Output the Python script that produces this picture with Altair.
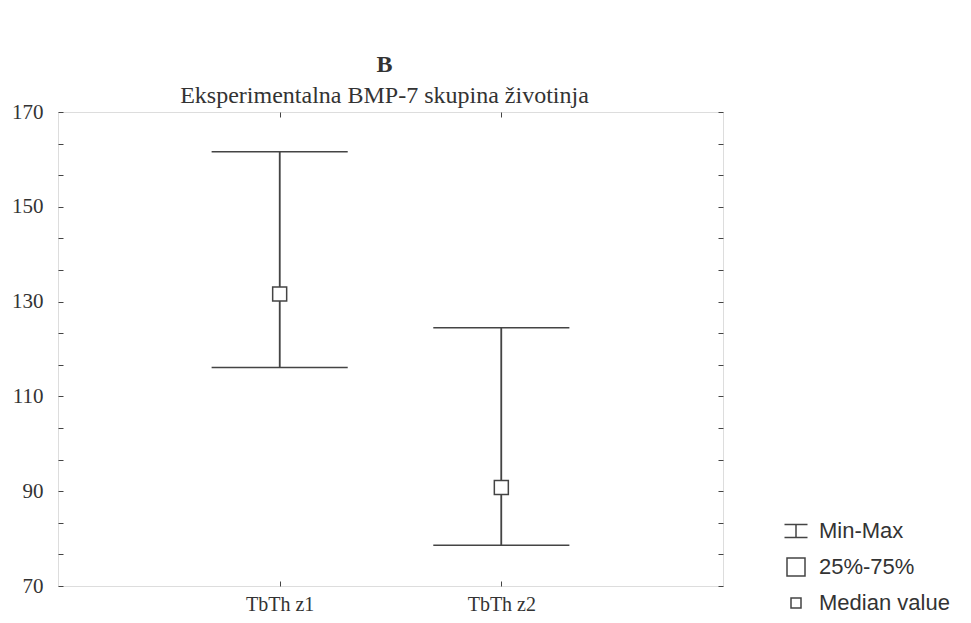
import json
import altair as alt
import pandas as pd

# ---- data ----
groups = ["TbTh z1", "TbTh z2"]
mins = [116.1, 78.6]
maxs = [161.6, 124.5]
medians = [131.6, 90.8]
y_labels = [70, 90, 110, 130, 150, 170]
legend_labels = ["Min-Max", "25%-75%", "Median value"]
title_text = "B"
subtitle_text = "Eksperimentalna BMP-7 skupina životinja"

# ---- tables ----
df = pd.DataFrame({
    "group": groups,
    "pos": list(range(1, len(groups) + 1)),
    "min": mins,
    "max": maxs,
    "median": medians,
    "kind": [legend_labels[2]] * len(groups),
})

y_ticks = [round(70 + k * 20 / 3, 4) for k in range(16)]
x_label_expr = f"{json.dumps(groups)}[datum.value - 1]"
LINE = "#444444"
CAP = 0.307
SERIF = "Liberation Serif"

x_scale = alt.Scale(domain=[0, len(groups) + 1], nice=False, zero=False)
y_scale = alt.Scale(domain=[y_labels[0], y_labels[-1]], nice=False, zero=False)

x_axis_bottom = alt.Axis(orient="bottom", values=list(range(1, len(groups) + 1)), labelExpr=x_label_expr,
                         title=None, grid=False, domain=False, offset=-5, tickSize=5, tickColor=LINE,
                         tickWidth=1, labelFont=SERIF, labelFontSize=20, labelColor="#333",
                         labelPadding=8)
y_axis_left = alt.Axis(orient="left", values=y_ticks, labelExpr="datum.value % 20 == 10 ? datum.label : ''",
                       title=None, grid=False, domain=False, offset=-5, tickSize=5, tickColor=LINE,
                       tickWidth=1, labelFont=SERIF, labelFontSize=21, labelColor="#333",
                       labelPadding=15)
x_axis_top = alt.Axis(orient="top", values=list(range(1, len(groups) + 1)), labels=False, title=None,
                      grid=False, domain=False, offset=-5, tickSize=5, tickColor=LINE, tickWidth=1)
y_axis_right = alt.Axis(orient="right", values=y_ticks, labels=False, title=None, grid=False,
                        domain=False, offset=-5, tickSize=5, tickColor=LINE, tickWidth=1)

base = alt.Chart(df)

whisker = base.mark_rule(color=LINE, strokeWidth=1.5).encode(
    x=alt.X("pos:Q", scale=x_scale, axis=x_axis_bottom),
    y=alt.Y("min:Q", scale=y_scale, axis=y_axis_left),
    y2="max:Q",
)

whisker2 = base.mark_rule(color=LINE, strokeWidth=1.5).encode(
    x=alt.X("pos:Q", scale=x_scale, axis=x_axis_top),
    y=alt.Y("min:Q", scale=y_scale, axis=y_axis_right),
    y2="max:Q",
)

caps = base.transform_fold(["min", "max"], as_=["which", "val"]).transform_calculate(
    lo=f"datum.pos - {CAP}", hi=f"datum.pos + {CAP}"
).mark_rule(color=LINE, strokeWidth=1.5).encode(
    x=alt.X("lo:Q", scale=x_scale, axis=None),
    x2="hi:Q",
    y=alt.Y("val:Q", scale=y_scale, axis=None),
)

median_bg = base.mark_square(filled=True, color="white", opacity=1, size=196).encode(
    x=alt.X("pos:Q", scale=x_scale, axis=None),
    y=alt.Y("median:Q", scale=y_scale, axis=None),
)

shape_paths = [
    "M-1.15,-0.65H1.15M0,-0.65V0.65M-1.15,0.65H1.15",
    "M-0.9,-0.9H0.9V0.9H-0.9Z",
    "M-0.5,-0.5H0.5V0.5H-0.5Z",
]

median_pts = base.mark_point(filled=False, color=LINE, strokeWidth=1.5, opacity=1, size=784).encode(
    x=alt.X("pos:Q", scale=x_scale, axis=None),
    y=alt.Y("median:Q", scale=y_scale, axis=None),
    shape=alt.Shape("kind:N", scale=alt.Scale(domain=legend_labels, range=shape_paths),
                    legend=alt.Legend(orient="none", legendX=727, legendY=408, title=None,
                                      labelFont="Liberation Sans", labelFontSize=22, labelColor="#333",
                                      symbolSize=400, rowPadding=13,
                                      labelOffset=12, padding=0)),
)

chart = alt.layer(whisker, whisker2, caps, median_bg, median_pts).resolve_axis(
    x="independent", y="independent"
).properties(
    width=665,
    height=474,
    padding={"left": 50, "top": 104, "right": 240, "bottom": 29},
    autosize=alt.AutoSizeParams(type="none"),
    title=alt.TitleParams(
        text=title_text, subtitle=subtitle_text, font=SERIF, fontSize=24,
        fontWeight="bold", color="#333", subtitleFont=SERIF, subtitleFontSize=24,
        subtitleColor="#333", anchor="middle", frame="group", offset=-7, subtitlePadding=7, dx=-6,
    ),
).configure_view(stroke=LINE, strokeWidth=1.5).configure_title(
    font=SERIF, subtitleFont=SERIF
).configure(background="white")

chart.save("out.html", embed_options={"renderer": "svg", "actions": False})
